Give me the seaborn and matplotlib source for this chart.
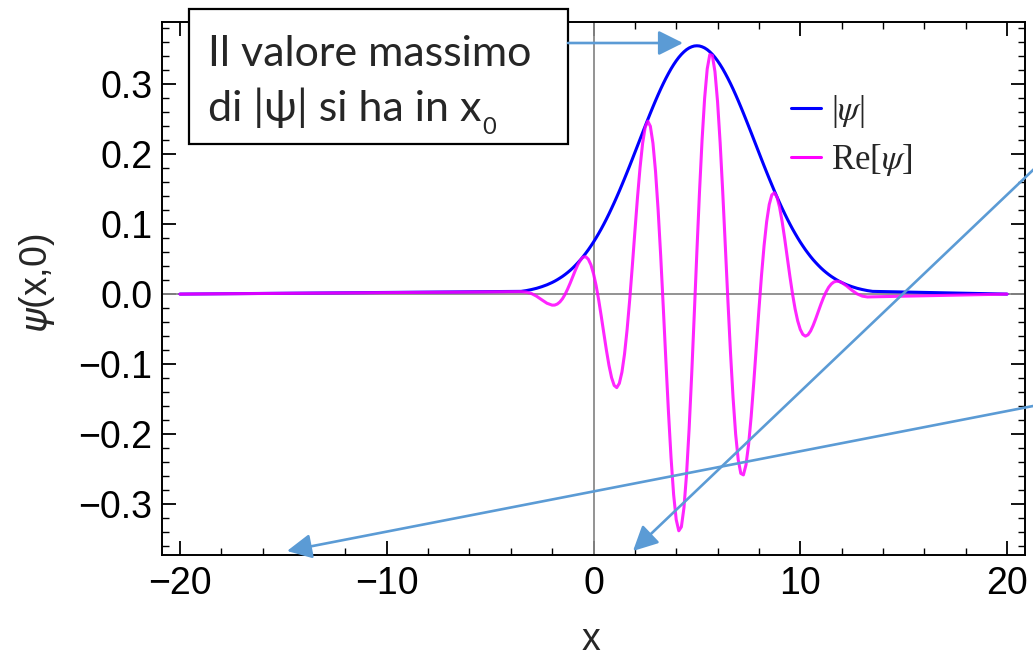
import numpy as np
import pandas as pd
import seaborn as sns
import matplotlib.pyplot as plt
from matplotlib.patches import FancyArrowPatch, Rectangle
from matplotlib.ticker import MultipleLocator

# x samples across the wave packet; outside it both curves sit on 0
x_core = np.round(np.arange(-3.5, 13.51, 0.25), 3)
x_mid = np.round(np.arange(-1.875, 11.876, 0.25), 3)   # extra samples where it oscillates

# |psi| (peak ~0.355 at x0 = 5)
abs_psi_core = [
    0.0039, 0.0050, 0.0065, 0.0083, 0.0106, 0.0133, 0.0166, 0.0206, 0.0253, 0.0309,
    0.0374, 0.0450, 0.0536, 0.0634, 0.0744, 0.0867, 0.1001, 0.1148, 0.1306, 0.1474,
    0.1651, 0.1834, 0.2023, 0.2213, 0.2402, 0.2587, 0.2765, 0.2932, 0.3084, 0.3220,
    0.3335, 0.3427, 0.3495, 0.3536, 0.3550, 0.3536, 0.3495, 0.3427, 0.3335, 0.3220,
    0.3084, 0.2932, 0.2765, 0.2587, 0.2402, 0.2213, 0.2023, 0.1834, 0.1651, 0.1474,
    0.1306, 0.1148, 0.1001, 0.0867, 0.0744, 0.0634, 0.0536, 0.0450, 0.0374, 0.0309,
    0.0253, 0.0206, 0.0166, 0.0133, 0.0106, 0.0083, 0.0065, 0.0050, 0.0039,
]
abs_psi_mid = [
    0.0185, 0.0229, 0.0280, 0.0340, 0.0411, 0.0491, 0.0584, 0.0688, 0.0804, 0.0932,
    0.1073, 0.1226, 0.1389, 0.1562, 0.1742, 0.1928, 0.2118, 0.2308, 0.2495, 0.2677,
    0.2850, 0.3010, 0.3154, 0.3280, 0.3384, 0.3464, 0.3519, 0.3547, 0.3547, 0.3519,
    0.3464, 0.3384, 0.3280, 0.3154, 0.3010, 0.2850, 0.2677, 0.2495, 0.2308, 0.2118,
    0.1928, 0.1742, 0.1562, 0.1389, 0.1226, 0.1073, 0.0932, 0.0804, 0.0688, 0.0584,
    0.0491, 0.0411, 0.0340, 0.0280, 0.0229, 0.0185,
]

# Re[psi]
re_psi_core = [
    0.0035, 0.0029, 0.0008, -0.0031, -0.0082, -0.0131, -0.0158, -0.0142, -0.0066, 0.0073,
    0.0251, 0.0425, 0.0529, 0.0498, 0.0293, -0.0083, -0.0561, -0.1021, -0.1306, -0.1276,
    -0.0858, -0.0084, 0.0888, 0.1805, 0.2386, 0.2399, 0.1755, 0.0547, -0.0948, -0.2337,
    -0.3224, -0.3328, -0.2577, -0.1143, 0.0604, 0.2198, 0.3219, 0.3410, 0.2752, 0.1461,
    -0.0090, -0.1480, -0.2369, -0.2585, -0.2154, -0.1272, -0.0227, 0.0693, 0.1281, 0.1449,
    0.1241, 0.0786, 0.0252, -0.0211, -0.0505, -0.0601, -0.0528, -0.0351, -0.0144, 0.0032,
    0.0144, 0.0184, 0.0166, 0.0115, 0.0054, 0.0003, -0.0029, -0.0041, -0.0039,
]
re_psi_mid = [
    -0.0157, -0.0112, -0.0004, 0.0159, 0.0343, 0.0489, 0.0534, 0.0419, 0.0124, -0.0316,
    -0.0803, -0.1195, -0.1337, -0.1116, -0.0508, 0.0391, 0.1371, 0.2155, 0.2473, 0.2158,
    0.1206, -0.0188, -0.1682, -0.2865, -0.3384, -0.3054, -0.1926, -0.0281, 0.1449, 0.2801,
    0.3425, 0.3179, 0.2165, 0.0691, -0.0830, -0.2003, -0.2564, -0.2441, -0.1753, -0.0752,
    0.0264, 0.1036, 0.1418, 0.1386, 0.1034, 0.0518, 0.0004, -0.0382, -0.0577, -0.0582,
    -0.0447, -0.0247, -0.0049, 0.0098, 0.0173, 0.0181,
]

# flat tails at the ends of the plotted range
x_ends = [-20.0, 20.0]
abs_psi_ends = [0.0, 0.0]
re_psi_ends = [0.0, 0.0]

note_lines = ["Il valore massimo", "di |\u03c8| si ha in x"]
note_sub = "0"

W, H = 1033, 658


def fig_pt(px, py):
    # pixel position (from top-left) -> figure fraction
    return (px / W, 1 - py / H)


sns.set_theme(style="ticks")
plt.rcParams["font.family"] = ["Liberation Sans", "DejaVu Sans"]
plt.rcParams["mathtext.fontset"] = "stix"

fig = plt.figure(figsize=(W / 100, H / 100), dpi=100)
ax = fig.add_axes([162 / W, 1 - 555 / H, (1025 - 162) / W, (555 - 22) / H])

df = pd.DataFrame({
    "x": np.concatenate([x_ends, x_core, x_mid]),
    "abs": abs_psi_ends + abs_psi_core + abs_psi_mid,
    "re": re_psi_ends + re_psi_core + re_psi_mid,
}).sort_values("x")

# Mathematica-style axes through the origin
ax.axhline(0, color="#8a8a8a", lw=1.3, zorder=1)
ax.axvline(0, color="#8a8a8a", lw=1.3, zorder=1)

sns.lineplot(data=df, x="x", y="abs", ax=ax, color="#0000ff", lw=2.2,
             label=r"|$\psi$|", zorder=3)
sns.lineplot(data=df, x="x", y="re", ax=ax, color="#ff00ff", lw=2.2, alpha=0.85,
             label=r"Re[$\psi$]", zorder=4)

ax.set_xlim(-20.87, 20.87)
ax.set_ylim(-0.373, 0.389)
ax.xaxis.set_major_locator(MultipleLocator(10))
ax.xaxis.set_minor_locator(MultipleLocator(2))
ax.yaxis.set_major_locator(MultipleLocator(0.1))
ax.yaxis.set_minor_locator(MultipleLocator(0.02))
ax.tick_params(which="both", direction="in", top=True, right=True, colors="black")
ax.tick_params(which="major", length=10, width=1.3, labelsize=27)
ax.tick_params(which="minor", length=5, width=1.0)
ax.tick_params(axis="x", pad=8)
ax.tick_params(axis="y", pad=7)
for sp in ax.spines.values():
    sp.set_color("black")
    sp.set_linewidth(1.4)

ax.set_xlabel("x", fontsize=27)
ax.set_ylabel(r"$\psi$(x,0)", fontsize=27, math_fontfamily="dejavusans")
ax.xaxis.set_label_coords(0.497, -0.125)
ax.yaxis.set_label_coords(-0.122, 0.51)

leg = ax.legend(loc="upper left", bbox_to_anchor=fig_pt(760, 62),
                bbox_transform=fig.transFigure, frameon=False,
                prop={"family": "Liberation Serif", "size": 25},
                handlelength=0.85, handletextpad=0.3, labelspacing=0.35)
for ln in leg.get_lines():
    ln.set_linewidth(2.2)
    ln.set_alpha(1)

# text box from the slide
fig.add_artist(Rectangle(fig_pt(189, 144), (568 - 189) / W, (144 - 9) / H,
                         transform=fig.transFigure, facecolor="white",
                         edgecolor="black", lw=1.6, zorder=5))
note_font = ["Lato", "DejaVu Sans"]
fig.text(*fig_pt(208, 66), note_lines[0], family=note_font, fontsize=31,
         va="baseline", zorder=6)
line2 = fig.text(*fig_pt(208, 121), note_lines[1], family=note_font, fontsize=31,
                 va="baseline", zorder=6)
fig.canvas.draw()
bb = line2.get_window_extent()
fig.text(bb.x1 / W + 1 / W, 1 - 134 / H, note_sub, family=note_font, fontsize=17,
         va="baseline", zorder=6)

# slide arrows
arrow_style = "-|>,head_length=1.0,head_width=0.5"
for tail, head in [((568, 43), (683, 43)),
                   ((1045, 158.6), (633, 551)),
                   ((1045, 403.7), (287, 551))]:
    fig.add_artist(FancyArrowPatch(fig_pt(*tail), fig_pt(*head),
                                   transform=fig.transFigure, arrowstyle=arrow_style,
                                   mutation_scale=15, color="#5b9bd5", lw=1.9,
                                   shrinkA=0, shrinkB=0, zorder=7))

fig.savefig("out.png", dpi=100)
